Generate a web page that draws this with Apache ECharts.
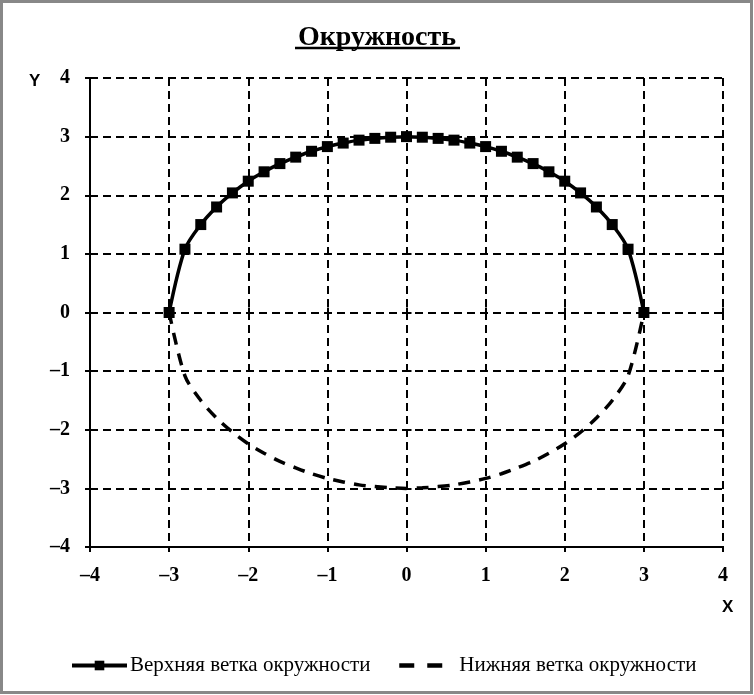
<!DOCTYPE html>
<html><head><meta charset="utf-8">
<script src="https://cdn.jsdelivr.net/npm/echarts@6/dist/echarts.min.js"></script>
<style>html,body{margin:0;padding:0;background:#fff}#c{width:754px;height:695px}</style>
</head><body><div id="c"></div>
<script>
const xValues = [-3,-2.8,-2.6,-2.4,-2.2,-2,-1.8,-1.6,-1.4,-1.2,-1,-0.8,-0.6,-0.4,-0.2,0,0.2,0.4,0.6,0.8,1,1.2,1.4,1.6,1.8,2,2.2,2.4,2.6,2.8,3];
const upperY = [0,1.08,1.5,1.8,2.04,2.24,2.4,2.54,2.65,2.75,2.83,2.89,2.94,2.97,2.99,3,2.99,2.97,2.94,2.89,2.83,2.75,2.65,2.54,2.4,2.24,2.04,1.8,1.5,1.08,0];
const lowerY = [0,-1.08,-1.5,-1.8,-2.04,-2.24,-2.4,-2.54,-2.65,-2.75,-2.83,-2.89,-2.94,-2.97,-2.99,-3,-2.99,-2.97,-2.94,-2.89,-2.83,-2.75,-2.65,-2.54,-2.4,-2.24,-2.04,-1.8,-1.5,-1.08,0];
const seriesNames = ['Верхняя ветка окружности','Нижняя ветка окружности'];
const titleText = 'Окружность';
const axisMin = -4, axisMax = 4, axisStep = 1;

const serif = 'Liberation Serif, Times New Roman, serif';
const fmt = v => String(v).replace('-', '\u2013');
const chart = echarts.init(document.getElementById('c'));
const gridLine = {show:true, lineStyle:{color:'#000', width:2, type:[8,5]}};
const labelStyle = {fontFamily:serif, fontWeight:'bold', fontSize:20, color:'#000', formatter: fmt};
const legendText = {fontFamily:serif, fontSize:21, color:'#000'};
chart.setOption({
  animation:false,
  title:{text:titleText, left:'center', top:19, textStyle:{fontFamily:serif, fontWeight:'bold', fontSize:28, color:'#000'}},
  grid:{left:90, right:31, top:78, bottom:148},
  xAxis:[{type:'value', min:axisMin, max:axisMax, interval:axisStep,
    axisLine:{show:true, onZero:false, lineStyle:{color:'#000', width:2}},
    axisTick:{show:true, length:5, lineStyle:{color:'#000', width:2}},
    axisLabel:Object.assign({margin:19}, labelStyle),
    splitLine:gridLine},
   {type:'value', position:'bottom', min:axisMin, max:axisMax, interval:axisStep,
    axisLine:{show:false}, axisTick:{show:true, inside:true, length:5, lineStyle:{color:'#000', width:2}},
    axisLabel:{show:false}, splitLine:{show:false}}],
  yAxis:[{type:'value', min:axisMin, max:axisMax, interval:axisStep,
    axisLine:{show:true, onZero:false, lineStyle:{color:'#000', width:2}},
    axisTick:{show:true, length:5, lineStyle:{color:'#000', width:2}},
    axisLabel:Object.assign({margin:20}, labelStyle),
    splitLine:gridLine},
   {type:'value', position:'left', min:axisMin, max:axisMax, interval:axisStep,
    axisLine:{show:false}, axisTick:{show:true, inside:true, length:5, lineStyle:{color:'#000', width:2}},
    axisLabel:{show:false}, splitLine:{show:false}}],
  legend:[
    {left:65, top:650, itemWidth:55, itemHeight:12, textStyle:Object.assign({padding:[0,0,0,-2]}, legendText),
     data:[{name:seriesNames[0], lineStyle:{width:4, color:'#000'}}]},
    {left:392, top:650, itemWidth:43, itemHeight:12, textStyle:Object.assign({padding:[0,0,0,12]}, legendText),
     data:[{name:seriesNames[1], itemStyle:{color:'rgba(0,0,0,0)', borderWidth:0, opacity:0},
            lineStyle:{width:4.5, color:'#000', type:[15,13]}}]}
  ],
  series:[
    {name:seriesNames[0], type:'line', smooth:0.3, data:xValues.map((x,i)=>[x, upperY[i]]),
     symbol:'rect', symbolSize:11, itemStyle:{color:'#000'}, lineStyle:{color:'#000', width:3.5}, z:3},
    {name:seriesNames[1], type:'line', smooth:0.3, data:xValues.map((x,i)=>[x, lowerY[i]]),
     symbol:'none', itemStyle:{color:'#000'}, lineStyle:{color:'#000', width:3.5, type:[12,9]}, z:2}
  ],
  graphic:[
    {type:'rect', shape:{x:1.5, y:1.5, width:750, height:691}, style:{fill:'none', stroke:'#888', lineWidth:3}, silent:true},
    {type:'line', shape:{x1:295, y1:48, x2:460, y2:48}, style:{stroke:'#000', lineWidth:2.5}},
    {type:'text', left:29, top:73, style:{text:'Y', font:'bold 17px Liberation Sans, Arial, sans-serif', fill:'#000'}},
    {type:'text', left:722, top:599, style:{text:'X', font:'bold 17px Liberation Sans, Arial, sans-serif', fill:'#000'}}
  ]
});
</script></body></html>
